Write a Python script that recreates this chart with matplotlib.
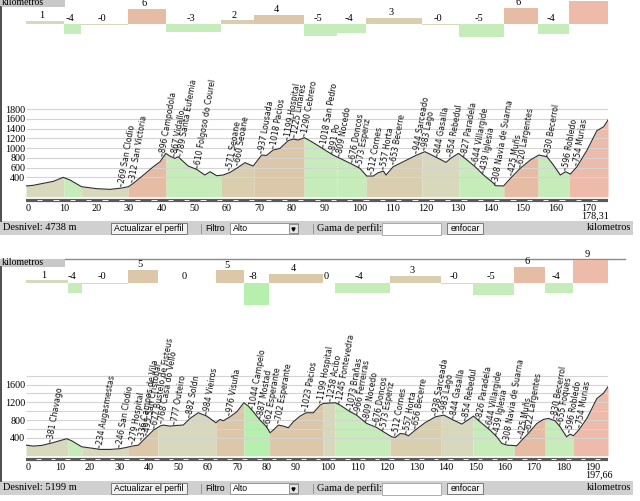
import numpy as np
import matplotlib
matplotlib.use("Agg")
import matplotlib.pyplot as plt
from matplotlib.patches import Rectangle
from matplotlib.transforms import offset_copy

W, H = 640, 501
SERIF = "Liberation Serif"
SANS = "Liberation Sans"
STOP_FONT = "DejaVu Sans"

# ---------------- route 1 (top) ----------------
km1 = [0, 2.2, 5.3, 8.4, 11.4, 13.5, 17.0, 21.7, 25.7, 29.3, 31.4, 32.9, 36.0, 39.0,
       41.1, 42.8, 44.1, 45.6, 46.6, 47.7, 49.7, 52.3, 54.8, 56.4, 58.4, 60.4, 62.5,
       64.5, 67.1, 69.6, 72.2, 73.7, 75.7, 77.8, 80.3, 81.9, 83.4, 85.3, 87.5, 90.0,
       91.6, 94.1, 96.2, 99.8, 102.3, 104.4, 106.4, 107.9, 109.5, 110.3, 112.5, 115.6,
       119.7, 122.2, 123.7, 126.3, 128.7, 130.1, 132.5, 134.5, 137.6, 140.2, 143.3,
       143.8, 146.3, 148.9, 151.4, 154.5, 157.1, 159.6, 161.6, 163.7, 165.3, 166.8,
       168.8, 171.9, 174.9, 177.0, 178.31]
alt1 = [220, 234, 275, 316, 398, 343, 206, 165, 151, 178, 206, 275, 446, 617,
        720, 891, 836, 788, 823, 754, 631, 562, 446, 514, 432, 446, 500,
        583, 700, 631, 857, 850, 960, 994, 1152, 1187, 1166, 1214, 1132, 1029,
        960, 857, 789, 672, 583, 425, 425, 493, 528, 446, 617, 720,
        857, 926, 878, 789, 706, 789, 891, 789, 617, 446, 275,
        227, 220, 412, 583, 754, 857, 823, 651, 446, 514, 466,
        617, 960, 1358, 1441, 1578]
seg_km1 = [0, 11.6, 16.9, 31.3, 42.9, 59.7, 69.9, 85.2, 95.3, 104.2, 121.3, 132.7,
           146.4, 156.9, 166.4, 178.31]
seg_pct1 = [1.2, -4.1, -0.2, 6.0, -3.3, 1.6, 3.6, -4.8, -3.7, 2.5, -0.2, -5.1, 6.5, -4.0, 9.2]
seg_txt1 = ["1", "-4", "-0", "6", "-3", "2", "4", "-5", "-4", "3", "-0", "-5", "6", "-4", "9"]
stop_km1 = [29.3, 32.7, 41.9, 45.4, 47.2, 52.5, 62.5, 64.9, 72.2, 75.8, 80.1, 82.2, 85.2,
            91.3, 94.0, 96.2, 100.0, 102.3, 105.9, 109.5, 112.7, 119.8, 122.2, 126.0,
            130.1, 134.5, 137.6, 140.2, 143.8, 148.9, 151.4, 159.9, 165.3, 168.6]
stop_txt1 = ["269 San Clodio", "312 San Victoria", "896 Campodola", "867 Vidallo",
             "789 Santa Eufemia", "610 Folgoso do Courel", "571 Seoane", "660 Seoane",
             "937 Lousada", "1018 Pacios", "1199 Hospital", "1225 Linares", "1290 Cebrero",
             "1018 San Pedro", "891 Po", "809 Nocedo", "676 Doncos", "573 Esperiz",
             "512 Cornes", "557 Horta", "653 Becerre", "944 Sarceado", "983 Lago",
             "844 Gasalla", "854 Rebedul", "827 Paradela", "644 Villargide", "439 Iglesia",
             "308 Navia de Suarna", "425 Muñs", "620 Largentes", "830 Becerrol",
             "596 Robledo", "754 Murias"]
len1 = 178.31
len_txt1 = "178,31"
desnivel1 = "Desnivel: 4738 m"
ylab1 = [400, 600, 800, 1000, 1200, 1400, 1600, 1800]
grid1 = [400, 600, 800, 1000, 1200, 1400, 1600, 1800]

# ---------------- route 2 (bottom) ----------------
km2 = [0, 2.5, 5.3, 8.2, 11.0, 13.8, 15.5, 18.9, 22.9, 25.1, 28.5, 31.7, 34.2, 36.1,
       38.2, 39.3, 41.0, 43.3, 45.5, 46.6, 48.9, 51.2, 53.4, 55.7, 58.5, 61.4, 64.5,
       65.9, 67.0, 69.3, 71.6, 74.0, 75.5, 77.2, 79.5, 81.7, 82.9, 84.0, 85.7, 87.4,
       89.1, 90.8, 93.1, 95.1, 97.6, 99.9, 101.0, 105.0, 106.7, 110.1, 112.3, 115.7,
       119.1, 121.4, 124.2, 125.4, 127.1, 128.7, 129.9, 132.2, 135.5, 139.1, 141.9,
       145.2, 148.0, 149.2, 152.0, 154.2, 157.6, 159.9, 161.6, 163.3, 166.7, 168.4,
       170.6, 173.5, 175.7, 177.4, 179.7, 181.4, 183.6, 184.8, 185.9, 187.7, 190.5,
       193.9, 196.1, 197.66]
alt2 = [238, 216, 231, 276, 328, 381, 336, 201, 164, 141, 141, 156, 186, 216,
        238, 313, 425, 575, 665, 688, 665, 680, 688, 838, 965, 890, 740,
        815, 785, 875, 987, 1190, 1115, 987, 800, 650, 515, 575, 688, 665,
        628, 763, 890, 965, 965, 1137, 1175, 1190, 1137, 987, 912, 725,
        635, 538, 425, 410, 500, 485, 448, 575, 740, 875, 912,
        800, 710, 763, 890, 763, 575, 425, 276, 238, 224, 351,
        500, 725, 815, 838, 785, 650, 425, 485, 448, 575, 838,
        1287, 1400, 1550]
seg_km2 = [0, 14.3, 19.0, 34.6, 44.8, 64.5, 74.0, 82.5, 100.9, 104.9, 123.6, 141.0,
           151.8, 165.8, 176.3, 185.8, 197.66]
seg_pct2 = [1.0, -3.8, -0.2, 5.1, 0.0, 4.9, -8.3, 3.6, 0.0, -4.0, 2.7, -0.2, -4.8, 6.2, -3.8, 9.0]
seg_txt2 = ["1", "-4", "-0", "5", "0", "5", "-8", "4", "0", "-4", "3", "-0", "-5", "6", "-4", "9"]
stop_km2 = [8.2, 25.1, 31.7, 36.1, 39.3, 41.0, 43.5, 46.1, 50.6, 55.5, 61.4, 69.1, 77.0,
            79.5, 82.1, 85.7, 95.1, 100.0, 103.5, 106.4, 110.1, 112.6, 115.7, 119.1,
            121.4, 125.4, 129.1, 132.2, 139.1, 141.9, 145.2, 149.2, 154.2, 157.4, 159.9,
            163.3, 168.4, 170.6, 179.4, 181.4, 184.6, 188.0]
stop_txt2 = ["381 Chavago", "234 Augasmestas", "246 San Clodio", "279 Hospital",
             "336 Campos de Vila", "495 San Cristobal", "677 Bustelo de Fisteus",
             "768 Casa do Vello", "777 Outeiro", "882 Soldn", "984 Vieiros", "976 Visuña",
             "1044 Campelo", "887 Mostad", "662 Esperante", "702 Esperante", "1023 Pacios",
             "1199 Hospital", "1258 Acibo", "1245 Fontevedra", "1073 Brañas",
             "966 Ferreiras", "809 Nocedo", "676 Doncos", "573 Esperiz", "512 Cornes",
             "557 Horta", "656 Becerre", "938 Sarceada", "983 Lago", "844 Gasalla",
             "854 Rebedul", "826 Paradela", "644 Villargide", "439 Iglesia",
             "308 Navia de Suarna", "425 Muñs", "622 Largentes", "830 Becerrol",
             "655 Foques", "596 Robledo", "754 Murias"]
len2 = 197.66
len_txt2 = "197,66"
desnivel2 = "Desnivel: 5199 m"
ylab2 = [400, 800, 1200, 1600]
grid2 = [400, 600, 800, 1000, 1200, 1400, 1600, 1800]


def pct_color(p):
    # colour of a stretch by its slope in %
    if p <= -6:
        return "#b6f0ae"
    if p <= -2:
        return "#c6ecba"
    if p < 1.5:
        return "#d8d8bc"
    if p < 3.5:
        return "#d9cfae"
    if p < 5.5:
        return "#dcc7a9"
    if p < 7.5:
        return "#e6bca4"
    return "#eebaa9"


def px_axes(fig, left, top, right, bottom):
    return fig.add_axes([left / W, 1 - bottom / H, (right - left) / W, (bottom - top) / H])


def draw_ui(ui, off, desnivel):
    # title tab and top rule
    ui.add_patch(Rectangle((0, -1.5 + off), 65, 8, color="#c8c8c8", lw=0))
    ui.text(2, 2.5 + off, "kilometros", family=SERIF, fontsize=7, va="center")
    ui.plot([65, 625], [-1.5 + off, -1.5 + off], color="#8a8a8a", lw=1)
    ui.plot([0.8, 0.8], [6.5 + off, 221 + off], color="#303030", lw=1.2)
    # control bar
    yb = 221 + off
    ui.add_patch(Rectangle((0, yb), 633, 14, color="#d0d0d0", lw=0))
    yc = yb + 7
    ui.text(3, yc, desnivel, family=SERIF, fontsize=7.5, va="center")
    ui.add_patch(Rectangle((111, yb + 2), 76, 11, fc="#f2f2f2", ec="#6a6a6a", lw=0.6))
    ui.text(149, yc + 0.5, "Actualizar el perfil", family=SANS, fontsize=6.3,
            ha="center", va="center")
    ui.plot([201, 201], [yb + 3, yb + 12], color="#8a8a8a", lw=0.6)
    ui.text(205, yc + 0.5, "Filtro", family=SANS, fontsize=6.3, va="center")
    ui.add_patch(Rectangle((230, yb + 2), 68, 11, fc="white", ec="#8a8a8a", lw=0.6))
    ui.text(233, yc + 0.5, "Alto", family=SANS, fontsize=6.3, va="center")
    ui.add_patch(Rectangle((289, yb + 3), 8.5, 9, fc="#e4e4e4", ec="#6a6a6a", lw=0.5))
    ui.plot(293.2, yc + 0.7, marker="v", ms=2.2, color="black")
    ui.plot([313, 313], [yb + 3, yb + 12], color="#8a8a8a", lw=0.6)
    ui.text(317, yc, "Gama de perfil:", family=SERIF, fontsize=7.5, va="center")
    ui.add_patch(Rectangle((382, yb + 1.5), 59, 12, fc="white", ec="#a0a0a0", lw=0.6))
    ui.add_patch(Rectangle((447, yb + 2), 36, 11, fc="#f2f2f2", ec="#6a6a6a", lw=0.6))
    ui.text(465, yc + 0.5, "enfocar", family=SANS, fontsize=6.3, ha="center", va="center")
    ui.text(587, yc, "kilometros", family=SERIF, fontsize=7.5, va="center")


def draw_route(fig, off, km, alt, seg_km, seg_pct, seg_txt, stop_km, stop_txt,
               total, total_txt, ylab, grid, m_px, pct_px, lab_up, lab_dn):
    x0, x1 = 26, 608
    base_y = 24 + off
    zero_y = 196.7 + off

    # slope bars
    axb = px_axes(fig, x0, base_y - 26, x1, base_y + 26)
    axb.set_xlim(0, total)
    axb.set_ylim(-26 / pct_px, 26 / pct_px)
    axb.axis("off")
    tr = offset_copy(axb.transData, fig=fig, x=-3, y=0, units="dots")
    for a, b, p, t in zip(seg_km[:-1], seg_km[1:], seg_pct, seg_txt):
        axb.bar(a, p, width=b - a, align="edge", color=pct_color(p), lw=0)
        ty = p + lab_up if p > 0.5 else lab_dn
        axb.text((a + b) / 2, ty, t, transform=tr, family=SERIF, fontsize=7.5,
                 ha="center", va="baseline", clip_on=False)

    # profile
    axp = px_axes(fig, x0, zero_y - 97, x1, zero_y + 6.3)
    axp.set_xlim(0, total)
    axp.set_ylim(-6.3 / m_px, 97 / m_px)
    axp.patch.set_alpha(0)
    for s in axp.spines.values():
        s.set_visible(False)
    for a, b, p in zip(seg_km[:-1], seg_km[1:], seg_pct):
        xs = [a] + [k for k in km if a < k < b] + [b]
        ys = np.interp(xs, km, alt)
        axp.fill_between(xs, 0, ys, color=pct_color(p), lw=0, zorder=1)
    axp.hlines(grid, 0, total, colors="#d4d4d4", lw=0.8, zorder=2)
    axp.plot(km, alt, color="#2e2e2e", lw=0.8, zorder=3)

    # distance scale bar
    bar_y = -2.8 / m_px
    axp.axhline(bar_y, color="#5a5a5a", lw=2.3, zorder=3)
    marks = np.arange(0, total, 5.0)
    axp.hlines([bar_y] * len(marks), marks + 3.4, np.minimum(marks + 5, total),
               colors="#f0f0f0", lw=0.7, zorder=4)

    ticks = np.arange(0, total - 5, 10)
    axp.set_xticks(ticks)
    axp.set_xticklabels([str(int(v)) for v in ticks], family=SERIF, fontsize=7.3, ha="left")
    axp.set_yticks(ylab)
    axp.set_yticklabels([str(v) for v in ylab], family=SERIF, fontsize=7.3)
    axp.tick_params(length=0, pad=0.5)
    axp.annotate(total_txt, xy=(ticks[-1], 0), xycoords=("data", "axes fraction"),
                 xytext=(0, -9.4), textcoords="offset points", family=SERIF,
                 fontsize=7.3, ha="left", va="center")

    # stop names
    for k, t in zip(stop_km, stop_txt):
        y = np.interp(k, km, alt) + 1.5 / m_px
        axp.text(k, y, "\u2013" + t, rotation=80, rotation_mode="anchor",
                 ha="left", va="center", family=STOP_FONT, fontsize=5.6,
                 color="#111111", clip_on=False, zorder=5)


fig = plt.figure(figsize=(W / 100, H / 100), dpi=100)
ui = fig.add_axes([0, 0, 1, 1])
ui.set_xlim(0, W)
ui.set_ylim(H, 0)
ui.axis("off")

draw_ui(ui, 0, desnivel1)
draw_ui(ui, 260, desnivel2)

draw_route(fig, 0, km1, alt1, seg_km1, seg_pct1, seg_txt1, stop_km1, stop_txt1,
           len1, len_txt1, ylab1, grid1, 0.0486, 2.5, 1.0, 1.3)
draw_route(fig, 259, km2, alt2, seg_km2, seg_pct2, seg_txt2, stop_km2, stop_txt2,
           len2, len_txt2, ylab2, grid2, 0.0445, 2.6, 1.0, 1.5)

fig.savefig("out.png", dpi=100)
